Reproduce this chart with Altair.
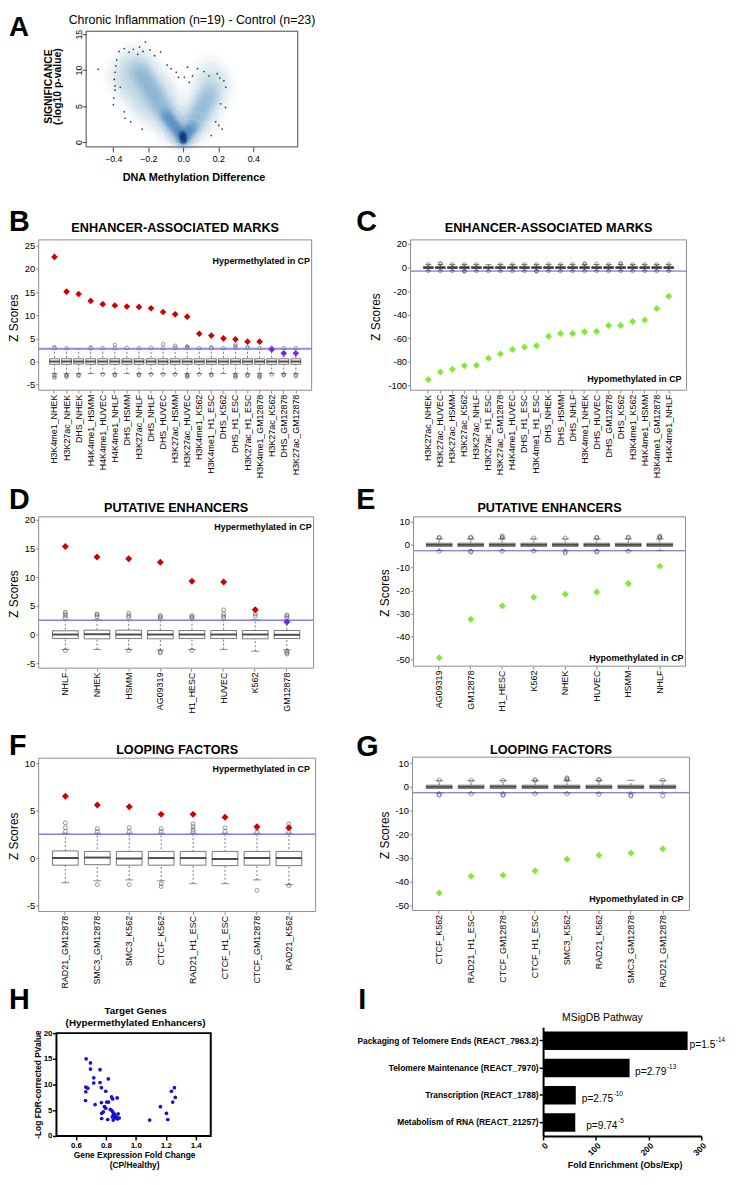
import altair as alt
import pandas as pd

FONT = "Liberation Sans"

# ---------------- Panel A : methylation volcano density ----------------
A_xticks = [-0.4, -0.2, 0.0, 0.2, 0.4]
A_yticks = [0, 5, 10, 15]
A_haze_x = [-0.05, 0.0, 0.05,
            -0.1, -0.05, 0.0, 0.05, 0.1,
            -0.2, -0.15, -0.1, -0.05, 0.05, 0.1, 0.15,
            -0.25, -0.2, -0.15, -0.1, 0.1, 0.15,
            -0.3, -0.25, -0.2, -0.15, -0.1, 0.1, 0.15, 0.2,
            -0.35, -0.3, -0.25, -0.2, -0.15, 0.15, 0.2,
            -0.35, -0.3, -0.25, -0.2, 0.15,
            -0.3, -0.25]
A_haze_y = [1.0, 1.0, 1.0,
            2.5, 2.5, 2.5, 2.5, 2.5,
            4.0, 4.0, 4.0, 4.0, 4.0, 4.0, 4.0,
            5.5, 5.5, 5.5, 5.5, 5.5, 5.5,
            7.0, 7.0, 7.0, 7.0, 7.0, 7.0, 7.0, 7.0,
            8.5, 8.5, 8.5, 8.5, 8.5, 8.5, 8.5,
            10.0, 10.0, 10.0, 10.0, 10.0,
            11.5, 11.5]
A_mid_x = [-0.01, -0.03, -0.05, -0.07, -0.09, -0.11, -0.13, -0.15, -0.17, -0.19, -0.21, -0.23, -0.25,
           0.01, 0.03, 0.05, 0.07, 0.09, 0.11, 0.13, 0.15]
A_mid_y = [0.5, 1.2, 2.0, 2.8, 3.6, 4.4, 5.2, 6.0, 6.8, 7.6, 8.4, 9.2, 10.0,
           0.5, 1.3, 2.2, 3.1, 4.0, 4.9, 5.8, 6.7]
A_dark_x = [0.0, -0.01, -0.02, -0.04, -0.06, -0.08, -0.10, 0.01, 0.03, 0.05]
A_dark_y = [0.3, 0.8, 1.3, 1.9, 2.5, 3.1, 3.8, 0.8, 1.4, 2.0]
A_core_x = [0.0, 0.0, -0.005]
A_core_y = [0.2, 0.6, 1.0]
A_dot_x = [-0.486, -0.38, -0.385, -0.39, -0.394, -0.39, -0.397, -0.40, -0.337, -0.333, -0.30, -0.235,
           -0.367, -0.337, -0.31, -0.285, -0.26, -0.25, -0.23, -0.216, -0.19, -0.164, -0.13, -0.092,
           -0.07, -0.04, -0.028, 0.024, 0.053, 0.081, 0.119, 0.147, 0.194, 0.209, 0.232, 0.243,
           0.213, 0.241, 0.185, 0.203, 0.222, 0.16, 0.006, 0.034, -0.39, -0.36]
A_dot_y = [10.1, 11.4, 10.6, 9.7, 8.7, 7.8, 6.1, 5.2, 4.2, 3.3, 2.8, 1.8,
           12.6, 13.0, 12.5, 12.9, 12.2, 13.2, 12.6, 13.9, 12.8, 12.0, 12.5, 10.7,
           10.2, 9.7, 9.0, 10.4, 9.2, 10.2, 9.8, 9.2, 9.5, 8.9, 8.5, 7.6,
           5.3, 4.8, 2.8, 2.3, 1.8, 0.9, 9.0, 8.3, 7.2, 7.6]

# ---------------- Panel B ----------------
B_cats = ["H3K4me1_NHEK", "H3K27ac_NHEK", "DHS_NHEK", "H4K4me1_HSMM", "H4K4me1_HUVEC", "H4K4me1_NHLF",
          "DHS_HSMM", "H3K27ac_NHLF", "DHS_NHLF", "DHS_HUVEC", "H3K27ac_HSMM", "H3K27ac_HUVEC",
          "H3K4me1_K562", "H3K4me1_H1_ESC", "DHS_K562", "DHS_H1_ESC", "H3K27ac_H1_ESC",
          "H3K4me1_GM12878", "H3K27ac_K562", "DHS_GM12878", "H3K27ac_GM12878"]
B_z = [22.6, 15.1, 14.6, 13.1, 12.4, 12.1, 11.9, 11.8, 11.5, 10.7, 10.2, 9.7, 6.0, 5.6, 5.0, 4.8, 4.3, 4.3, 2.6, 1.8, 1.8]
B_cls = ["hyper", "hyper", "hyper", "hyper", "hyper", "hyper", "hyper", "hyper", "hyper", "hyper", "hyper",
         "hyper", "hyper", "hyper", "hyper", "hyper", "hyper", "hyper", "weak", "weak", "weak"]
B_q1 = [-0.6, -0.6, -0.55, -0.6, -0.6, -0.6, -0.6, -0.6, -0.6, -0.6, -0.6, -0.6, -0.6, -0.6, -0.6, -0.6, -0.6, -0.6, -0.6, -0.6, -0.6]
B_med = [0.0, 0.0, 0.0, 0.0, 0.0, 0.0, 0.0, 0.0, 0.0, 0.0, 0.0, 0.0, 0.0, 0.0, 0.0, 0.0, 0.0, 0.0, 0.0, 0.0, 0.0]
B_q3 = [0.6, 0.6, 0.6, 0.6, 0.6, 0.6, 0.6, 0.6, 0.6, 0.6, 0.6, 0.6, 0.6, 0.6, 0.6, 0.6, 0.6, 0.6, 0.6, 0.6, 0.6]
B_wlo = [-2.6, -2.6, -2.6, -2.6, -2.6, -2.6, -2.6, -2.6, -2.6, -2.6, -2.6, -2.6, -2.6, -2.6, -2.6, -2.6, -2.6, -2.6, -2.6, -2.6, -2.6]
B_whi = [2.6, 2.6, 2.6, 2.6, 2.6, 2.6, 2.6, 2.6, 2.6, 2.6, 2.6, 2.6, 2.6, 2.6, 2.6, 2.6, 2.6, 2.6, 2.6, 2.6, 2.6]
B_out_i = [0, 0, 1, 3, 3, 4, 5, 5, 6, 7, 8, 9, 9, 10, 10, 11, 11, 11, 12, 13, 13, 14, 15, 15, 15, 16, 16, 17, 18, 19, 20,
           0, 0, 0, 1, 1, 1, 2, 2, 4, 5, 5, 7, 7, 8, 9, 10, 11, 11, 11, 12, 13, 13, 15, 15, 15, 16, 16, 17, 17, 17, 18, 19, 19, 20, 20]
B_out_v = [2.9, 3.1, 2.9, 2.8, 3.1, 2.9, 2.9, 3.6, 3.0, 2.9, 3.0, 2.9, 3.8, 3.0, 3.4, 2.9, 3.1, 3.3, 2.9, 2.9, 3.1, 2.9, 2.9, 3.3, 3.7, 2.9, 3.1, 2.9, 3.0, 2.9, 2.9,
           -2.9, -3.2, -3.5, -2.9, -3.1, -3.3, -2.9, -3.1, -2.8, -2.8, -3.0, -2.8, -3.0, -2.8, -2.8, -2.8, -2.9, -3.1, -3.3, -2.8, -2.8, -3.0, -2.9, -3.1, -3.4, -2.9, -3.1, -2.9, -3.2, -3.4, -2.8, -2.8, -3.0, -2.9, -3.2]
B_yticks = [-5, 0, 5, 10, 15, 20, 25]

# ---------------- Panel C ----------------
C_cats = ["H3K27ac_NHEK", "H3K27ac_HUVEC", "H3K27ac_HSMM", "H3K27ac_K562", "H3K27ac_NHLF", "H3K27ac_H1_ESC",
          "H3K27ac_GM12878", "H4K4me1_HUVEC", "DHS_H1_ESC", "H3K4me1_H1_ESC", "DHS_NHEK", "DHS_HSMM",
          "DHS_NHLF", "H3K4me1_NHEK", "DHS_HUVEC", "DHS_GM12878", "DHS_K562", "H3K4me1_K562",
          "H4K4me1_HSMM", "H3K4me1_GM12878", "H4K4me1_NHLF"]
C_z = [-95.0, -88.8, -86.3, -83.5, -82.9, -77.0, -73.4, -69.5, -67.5, -66.4, -58.3, -56.0, -56.0, -54.6, -54.3, -49.3, -49.3, -45.9, -44.5, -34.7, -24.4]
C_cls = ["hypo", "hypo", "hypo", "hypo", "hypo", "hypo", "hypo", "hypo", "hypo", "hypo", "hypo",
         "hypo", "hypo", "hypo", "hypo", "hypo", "hypo", "hypo", "hypo", "hypo", "hypo"]
C_q1 = [-0.7, -0.7, -0.7, -0.7, -0.7, -0.7, -0.7, -0.7, -0.7, -0.7, -0.7, -0.7, -0.7, -0.7, -0.7, -0.7, -0.7, -0.7, -0.7, -0.7, -0.7]
C_med = [0.0, 0.0, 0.0, 0.0, 0.0, 0.0, 0.0, 0.0, 0.0, 0.0, 0.0, 0.0, 0.0, 0.0, 0.0, 0.0, 0.0, 0.0, 0.0, 0.0, 0.0]
C_q3 = [0.7, 0.7, 0.7, 0.7, 0.7, 0.7, 0.7, 0.7, 0.7, 0.7, 0.7, 0.7, 0.7, 0.7, 0.7, 0.7, 0.7, 0.7, 0.7, 0.7, 0.7]
C_wlo = [-2.6, -2.6, -2.6, -2.6, -2.6, -2.6, -2.6, -2.6, -2.6, -2.6, -2.6, -2.6, -2.6, -2.6, -2.6, -2.6, -2.6, -2.6, -2.6, -2.6, -2.6]
C_whi = [2.6, 2.6, 2.6, 2.6, 2.6, 2.6, 2.6, 2.6, 2.6, 2.6, 2.6, 2.6, 2.6, 2.6, 2.6, 2.6, 2.6, 2.6, 2.6, 2.6, 2.6]
C_out_i = [0, 1, 2, 3, 4, 6, 7, 8, 9, 10, 11, 12, 13, 14, 15, 16, 17, 18, 19, 20, 1, 13, 16,
           0, 1, 2, 3, 4, 5, 6, 7, 8, 9, 10, 11, 12, 13, 14, 15, 16, 17, 18, 19, 20, 3, 9]
C_out_v = [2.8, 3.2, 2.8, 2.8, 2.8, 2.8, 2.8, 2.8, 2.8, 2.8, 2.8, 2.8, 2.8, 3.2, 2.8, 2.8, 2.8, 2.8, 2.8, 2.8, 3.5, 3.6, 3.8,
           -2.9, -2.9, -2.9, -2.9, -2.9, -2.9, -2.9, -2.9, -2.9, -2.9, -2.9, -2.9, -2.9, -2.9, -2.9, -2.9, -2.9, -2.9, -2.9, -2.9, -2.9, -3.4, -3.4]
C_yticks = [-100, -80, -60, -40, -20, 0, 20]

# ---------------- Panel D ----------------
D_cats = ["NHLF", "NHEK", "HSMM", "AG09319", "H1_HESC", "HUVEC", "K562", "GM12878"]
D_z = [15.35, 13.5, 13.2, 12.6, 9.3, 9.15, 4.3, 2.2]
D_cls = ["hyper", "hyper", "hyper", "hyper", "hyper", "hyper", "hyper", "weak"]
D_q1 = [-0.7, -0.75, -0.7, -0.75, -0.7, -0.7, -0.75, -0.7]
D_med = [0.0, 0.05, 0.0, 0.0, 0.0, 0.0, 0.0, -0.05]
D_q3 = [0.65, 0.75, 0.75, 0.7, 0.7, 0.7, 0.7, 0.7]
D_wlo = [-2.6, -2.6, -2.6, -2.7, -2.6, -2.6, -2.9, -2.7]
D_whi = [2.5, 2.6, 2.5, 2.5, 2.5, 2.5, 2.6, 2.5]
D_out_i = [0, 0, 0, 0, 1, 1, 1, 2, 2, 2, 3, 3, 3, 4, 4, 4, 5, 5, 5, 5, 6, 6, 7, 7, 7,
           0, 2, 3, 3, 4, 7, 7, 7]
D_out_v = [2.9, 3.3, 3.6, 3.9, 3.1, 3.4, 3.6, 3.0, 3.3, 3.7, 2.9, 3.1, 3.3, 2.9, 3.1, 3.3, 2.9, 3.2, 3.6, 4.3, 3.2, 3.6, 2.9, 3.2, 3.4,
           -2.8, -2.8, -3.0, -3.2, -2.8, -2.9, -3.2, -3.4]
D_yticks = [-5, 0, 5, 10, 15, 20]

# ---------------- Panel E ----------------
E_cats = ["AG09319", "GM12878", "H1_HESC", "K562", "NHEK", "HUVEC", "HSMM", "NHLF"]
E_z = [-49.3, -32.5, -26.6, -22.9, -21.6, -20.6, -16.9, -9.3]
E_cls = ["hypo", "hypo", "hypo", "hypo", "hypo", "hypo", "hypo", "hypo"]
E_q1 = [-0.7, -0.7, -0.7, -0.7, -0.7, -0.7, -0.7, -0.7]
E_med = [0.0, 0.0, 0.0, 0.0, 0.0, 0.0, 0.0, 0.0]
E_q3 = [0.7, 0.7, 0.7, 0.7, 0.7, 0.7, 0.7, 0.7]
E_wlo = [-2.5, -2.5, -2.5, -2.5, -2.5, -2.5, -2.5, -2.5]
E_whi = [2.6, 2.6, 2.6, 2.6, 2.6, 2.6, 2.6, 2.6]
E_out_i = [0, 1, 2, 3, 4, 5, 6, 7, 0, 1, 2, 2, 5, 6, 7, 7,
           0, 1, 1, 2, 3, 4, 4, 5, 5, 6]
E_out_v = [3.0, 3.0, 3.0, 3.0, 3.0, 3.0, 3.0, 3.0, 3.3, 3.4, 3.4, 3.9, 3.3, 3.4, 3.4, 3.8,
           -2.8, -2.8, -3.2, -2.8, -2.7, -2.9, -3.6, -2.8, -3.2, -2.8]
E_yticks = [-50, -40, -30, -20, -10, 0, 10]

# ---------------- Panel F ----------------
F_cats = ["RAD21_GM12878", "SMC3_GM12878", "SMC3_K562", "CTCF_K562", "RAD21_H1_ESC", "CTCF_H1_ESC", "CTCF_GM12878", "RAD21_K562"]
F_z = [6.5, 5.6, 5.4, 4.6, 4.6, 4.3, 3.3, 3.2]
F_cls = ["hyper", "hyper", "hyper", "hyper", "hyper", "hyper", "hyper", "hyper"]
F_q1 = [-0.75, -0.7, -0.75, -0.75, -0.75, -0.8, -0.75, -0.8]
F_med = [0.0, 0.05, -0.05, 0.0, 0.0, -0.1, 0.0, 0.0]
F_q3 = [0.75, 0.7, 0.7, 0.7, 0.7, 0.7, 0.7, 0.7]
F_wlo = [-2.6, -2.4, -2.3, -2.4, -2.7, -2.7, -2.3, -2.8]
F_whi = [2.6, 2.6, 2.6, 2.6, 2.6, 2.6, 2.6, 2.6]
F_out_i = [0, 0, 0, 1, 1, 2, 2, 3, 3, 4, 4, 4, 4, 5, 5, 6, 6, 7, 7, 7,
           1, 2, 3, 3, 6, 7]
F_out_v = [2.8, 3.2, 3.7, 2.8, 3.1, 2.8, 3.2, 2.8, 3.1, 2.8, 3.0, 3.3, 3.6, 2.8, 3.2, 2.7, 3.1, 2.8, 3.2, 3.6,
           -2.8, -2.8, -2.7, -3.0, -3.4, -2.9]
F_yticks = [-5, 0, 5, 10]

# ---------------- Panel G ----------------
G_cats = ["CTCF_K562", "RAD21_H1_ESC", "CTCF_GM12878", "CTCF_H1_ESC", "SMC3_K562", "RAD21_K562", "SMC3_GM12878", "RAD21_GM12878"]
G_z = [-44.8, -37.7, -37.3, -35.4, -30.6, -28.9, -27.9, -26.1]
G_cls = ["hypo", "hypo", "hypo", "hypo", "hypo", "hypo", "hypo", "hypo"]
G_q1 = [-0.7, -0.7, -0.7, -0.7, -0.7, -0.7, -0.7, -0.7]
G_med = [0.0, 0.0, 0.0, 0.0, 0.0, 0.0, 0.0, 0.0]
G_q3 = [0.7, 0.7, 0.7, 0.7, 0.7, 0.7, 0.7, 0.7]
G_wlo = [-2.6, -2.6, -2.6, -2.6, -2.6, -2.6, -2.6, -2.6]
G_whi = [2.6, 2.6, 2.6, 2.6, 2.6, 2.6, 2.8, 2.6]
G_out_i = [0, 1, 2, 3, 3, 4, 4, 4, 5, 5, 7,
           0, 0, 1, 2, 2, 3, 4, 5, 6, 6, 7]
G_out_v = [2.8, 2.8, 2.7, 2.7, 3.0, 2.9, 3.4, 3.8, 2.8, 3.1, 2.8,
           -3.2, -3.5, -3.0, -3.2, -3.6, -3.0, -3.0, -3.2, -3.5, -3.9, -3.8]
G_yticks = [-50, -40, -30, -20, -10, 0, 10]

# ---------------- Panel H ----------------
H_x = [0.668, 0.697, 0.697, 0.761, 0.719, 0.719, 0.761, 0.816, 0.666, 0.679, 0.666, 0.770, 0.799, 0.664,
       0.728, 0.770, 0.805, 0.818, 0.838, 0.845, 0.875, 0.790, 0.799, 0.783, 0.772, 0.829, 0.838, 0.845,
       0.853, 0.860, 0.843, 0.860, 0.871, 0.882, 0.889, 0.772, 0.812, 0.849, 0.877, 0.849,
       1.257, 1.237, 1.263, 1.246, 1.164, 1.204, 1.213, 1.092]
H_y = [15.0, 14.2, 13.0, 12.9, 11.3, 10.3, 10.4, 11.1, 9.5, 9.3, 8.6, 9.4, 8.7, 6.9,
       6.1, 6.5, 6.6, 6.6, 7.6, 7.2, 7.4, 5.7, 5.4, 4.7, 4.4, 5.2, 5.0, 4.7,
       4.4, 4.1, 3.7, 3.5, 3.7, 4.3, 3.5, 3.4, 3.2, 3.1, 3.3, 4.0,
       9.4, 8.7, 7.5, 6.6, 5.7, 4.4, 3.2, 3.1]
H_xticks = [0.6, 0.8, 1.0, 1.2, 1.4]
H_yticks = [0, 5, 10, 15, 20]

# ---------------- Panel I ----------------
I_paths = ["Packaging of Telomere Ends (REACT_7963.2)", "Telomere Maintenance (REACT_7970)",
           "Transcription (REACT_1788)", "Metabolism of RNA (REACT_21257)"]
I_fe = [274, 164, 62, 61]
I_p_base = ["p=1.5", "p=2.79", "p=2.75", "p=9.74"]
I_p_exp = ["-14", "-13", "-10", "-5"]
I_xticks = [0, 100, 200, 300]

# ---------------- layout (page pixels) ----------------
OX, OY = 8, 8          # page origin of the single view
VW, VH = 731, 1168     # view size
P_FS, P_SUP_FS = 10.3, 6.5
I_pdx = [2, 5.5, 6, 11]   # label gap after each bar (px)
# Arial / Liberation Sans advance widths (em) for the p-value labels
ADV = {"p": 0.556, "=": 0.584, ".": 0.278, "-": 0.333}


def vx(x):
    return x - OX


def vy(y):
    return y - OY


def text_w(s, fs):
    return sum(ADV.get(c, 0.556) for c in s) * fs


def txt(s, x, y, size, weight="normal", align="left", angle=0, color="black"):
    return alt.Chart(pd.DataFrame({"s": [s]})).mark_text(
        align=align, baseline="alphabetic", fontSize=size, fontWeight=weight,
        angle=angle, color=color, font=FONT,
    ).encode(text="s:N", x=alt.value(vx(x)), y=alt.value(vy(y)))


def frame(x0, x1, y0, y1, color, width):
    return alt.Chart(pd.DataFrame({"v": [0]})).mark_rect(
        fillOpacity=0, stroke=color, strokeWidth=width
    ).encode(x=alt.value(vx(x0)), x2=alt.value(vx(x1)), y=alt.value(vy(y0)), y2=alt.value(vy(y1)))


def box_panel(cats, z, cls, q1, med, q3, wlo, whi, out_i, out_v, dom, ticks, rect, po,
              box_w, cap_w, osize, dsize, thr, thr_color, thr_w):
    x0, x1, y0, y1 = rect
    xenc = alt.X("cat:N",
                 scale=alt.Scale(domain=cats, range=[vx(x0), vx(x1)], paddingInner=0, paddingOuter=po),
                 axis=alt.Axis(title=None, orient="bottom", offset=vy(y1) - VH, labelAngle=-90,
                               labelFontSize=9, labelPadding=1, tickSize=3, tickColor="#8c8c8c",
                               domain=False, labelColor="black", labelLimit=200))
    ysc = alt.Scale(domain=dom, range=[vy(y1), vy(y0)], nice=False, zero=False)
    yax = alt.Axis(title=None, orient="left", offset=-vx(x0), values=ticks,
                   labelExpr="'' + datum.value", tickSize=3, tickColor="#8c8c8c", labelPadding=1,
                   domain=False, grid=False, labelFontSize=9.5, labelColor="black",
                   labelFlush=False, labelOverlap=False)

    def Y(f):
        return alt.Y(f"{f}:Q", scale=ysc, axis=yax)

    box_df = pd.DataFrame({"cat": cats, "q1": q1, "med": med, "q3": q3, "wlo": wlo, "whi": whi})
    out_df = pd.DataFrame({"cat": [cats[i] for i in out_i], "v": out_v})
    z_df = pd.DataFrame({"cat": cats, "z": z, "cls": cls})
    grey = "#555555"
    layers = [
        alt.Chart(box_df).mark_rule(color=grey, strokeWidth=0.8, strokeDash=[2, 2]).encode(
            x=xenc, y=Y("wlo"), y2="whi"),
        alt.Chart(box_df).mark_tick(color=grey, size=cap_w, thickness=1).encode(x=xenc, y=Y("whi")),
        alt.Chart(box_df).mark_tick(color=grey, size=cap_w, thickness=1).encode(x=xenc, y=Y("wlo")),
        alt.Chart(box_df).mark_bar(size=box_w, fill="white", stroke=grey, strokeWidth=0.8).encode(
            x=xenc, y=Y("q1"), y2="q3"),
        alt.Chart(box_df).mark_tick(color="black", size=box_w, thickness=2).encode(x=xenc, y=Y("med")),
        alt.Chart(out_df).mark_point(shape="circle", filled=False, size=osize, color="#333333",
                                     strokeWidth=0.7).encode(x=xenc, y=Y("v")),
        alt.Chart(pd.DataFrame({"t": [thr]})).mark_rule(color=thr_color, strokeWidth=thr_w).encode(
            y=Y("t"), x=alt.value(vx(x0)), x2=alt.value(vx(x1))),
        alt.Chart(z_df).mark_point(shape="diamond", filled=True, size=dsize, opacity=1).encode(
            x=xenc, y=Y("z"),
            color=alt.Color("cls:N", scale=alt.Scale(domain=["hyper", "weak", "hypo"],
                                                     range=["#d00000", "#7a22ee", "#80ea3c"]),
                            legend=None)),
        frame(x0, x1, y0, y1, "#8c8c8c", 1),
    ]
    return alt.layer(*layers)


def panel_A():
    x0, x1, y0, y1 = 87, 301, 25, 142
    xs = alt.Scale(domain=[-0.555, 0.654], range=[vx(x0), vx(x1)], nice=False, zero=False)
    ys = alt.Scale(domain=[-0.69, 15.41], range=[vy(y1), vy(y0)], nice=False, zero=False)
    xax = alt.Axis(title=None, orient="bottom", offset=vy(y1) - VH, values=A_xticks, format=".1f",
                   tickSize=5, tickColor="#444444", labelPadding=3, domain=False, grid=False,
                   labelFontSize=9, labelFlush=False, labelOverlap=False, labelColor="black")
    yax = alt.Axis(title=None, orient="left", offset=-vx(x0), values=A_yticks, labelAngle=-90,
                   labelAlign="center", labelBaseline="alphabetic", tickSize=4, tickColor="#444444",
                   labelPadding=1, domain=False, grid=False, labelFontSize=9, labelFlush=False,
                   labelOverlap=False, labelColor="black")
    X = alt.X("x:Q", scale=xs, axis=xax)
    Yv = alt.Y("y:Q", scale=ys, axis=yax)

    def cloud(xv, yv, size, color, op):
        return alt.Chart(pd.DataFrame({"x": xv, "y": yv})).mark_circle(
            size=size, color=color, opacity=op).encode(x=X, y=Yv)

    # each density level drawn at several radii so its edges fade softly
    return alt.layer(
        cloud(A_haze_x, A_haze_y, 1500, "#9ecae1", 0.05),
        cloud(A_haze_x, A_haze_y, 850, "#9ecae1", 0.05),
        cloud(A_haze_x, A_haze_y, 400, "#9ecae1", 0.05),
        cloud(A_mid_x, A_mid_y, 650, "#4f93c9", 0.05),
        cloud(A_mid_x, A_mid_y, 330, "#4f93c9", 0.06),
        cloud(A_mid_x, A_mid_y, 140, "#4f93c9", 0.06),
        cloud(A_dark_x, A_dark_y, 220, "#2166ac", 0.12),
        cloud(A_dark_x, A_dark_y, 90, "#2166ac", 0.14),
        cloud(A_core_x, A_core_y, 70, "#08306b", 0.3),
        cloud(A_core_x, A_core_y, 28, "#08306b", 0.45),
        alt.Chart(pd.DataFrame({"x": A_dot_x, "y": A_dot_y})).mark_circle(
            size=3, color="#222222", opacity=0.9).encode(x=X, y=Yv),
        frame(x0, x1, y0, y1, "#444444", 1),
    )


def panel_H():
    x0, x1, y0, y1 = 57, 213, 1038, 1142
    xs = alt.Scale(domain=[0.47, 1.5], range=[vx(x0), vx(x1)], nice=False, zero=False)
    ys = alt.Scale(domain=[0, 20], range=[vy(y1), vy(y0)], nice=False, zero=False)
    common = dict(title=None, domain=False, grid=False, tickColor="black", tickWidth=1.5,
                  tickSize=4, labelFontSize=8, labelFontWeight="bold", labelColor="black",
                  labelFlush=False, labelOverlap=False)
    X = alt.X("x:Q", scale=xs, axis=alt.Axis(orient="bottom", offset=vy(y1) - VH, labelPadding=2,
                                             values=H_xticks, format=".1f", **common))
    Yv = alt.Y("y:Q", scale=ys, axis=alt.Axis(orient="left", offset=-vx(x0), labelPadding=0.5,
                                              values=H_yticks, **common))
    return alt.layer(
        alt.Chart(pd.DataFrame({"x": H_x, "y": H_y})).mark_circle(
            size=14, color="#1414d2", opacity=1).encode(x=X, y=Yv),
        frame(x0, x1, y0, y1, "black", 2),
    )


def panel_I():
    x0, x1, y0, y1 = 549, 709, 1032, 1142
    axc = dict(title=None, tickSize=4, tickWidth=1.5, tickColor="black", domainColor="black",
               domainWidth=2, labelFontSize=8.5, labelFontWeight="bold", labelColor="black",
               labelPadding=1, grid=False)
    Yv = alt.Y("path:N",
               scale=alt.Scale(domain=I_paths, range=[vy(y0), vy(y1)], paddingInner=0.32, paddingOuter=0.16),
               axis=alt.Axis(orient="left", offset=-vx(x0), labelLimit=400, **axc))
    X = alt.X("fe:Q", scale=alt.Scale(domain=[0, 300], range=[vx(x0), vx(x1)], nice=False),
              axis=alt.Axis(orient="bottom", offset=vy(y1) - VH, values=I_xticks, labelAngle=-45,
                            labelFlush=False, labelOverlap=False, **axc))
    df = pd.DataFrame({"path": I_paths, "fe": I_fe, "base": I_p_base, "exp": I_p_exp})
    layers = [alt.Chart(df).mark_bar(color="black").encode(x=X, y=Yv)]
    for i in range(len(I_paths)):
        row = df.iloc[[i]]
        layers.append(alt.Chart(row).mark_text(
            align="left", baseline="alphabetic", dx=I_pdx[i], dy=7, fontSize=P_FS, color="black"
        ).encode(x=X, y=Yv, text="base:N"))
        layers.append(alt.Chart(row).mark_text(
            align="left", baseline="alphabetic", dx=I_pdx[i] + text_w(I_p_base[i], P_FS) + 0.5, dy=1,
            fontSize=P_SUP_FS, color="black"
        ).encode(x=X, y=Yv, text="exp:N"))
    return alt.layer(*layers)


panels = [
    panel_A(),
    box_panel(B_cats, B_z, B_cls, B_q1, B_med, B_q3, B_wlo, B_whi, B_out_i, B_out_v,
              [-6.2, 26.28], B_yticks, (39, 315, 236, 388), 0.811, 10, 6, 12, 45, 2.78, "#8a8aee", 2),
    box_panel(C_cats, C_z, C_cls, C_q1, C_med, C_q3, C_wlo, C_whi, C_out_i, C_out_v,
              [-104.2, 23.5], C_yticks, (415, 694, 236, 388), 0.98, 10, 6, 12, 50, -3.0, "#5a5ad8", 1),
    box_panel(D_cats, D_z, D_cls, D_q1, D_med, D_q3, D_wlo, D_whi, D_out_i, D_out_v,
              [-5.86, 20.5], D_yticks, (39, 317, 516, 669), 0.344, 26, 8, 16, 50, 2.47, "#8080ee", 1.5),
    box_panel(E_cats, E_z, E_cls, E_q1, E_med, E_q3, E_wlo, E_whi, E_out_i, E_out_v,
              [-53.0, 12.23], E_yticks, (418, 693, 516, 667), 0.316, 26, 8, 16, 50, -2.6, "#5a5ad8", 1),
    box_panel(F_cats, F_z, F_cls, F_q1, F_med, F_q3, F_wlo, F_whi, F_out_i, F_out_v,
              [-5.625, 10.52], F_yticks, (39, 319, 760, 915), 0.336, 26, 8, 16, 50, 2.5, "#8080ee", 1.5),
    box_panel(G_cats, G_z, G_cls, G_q1, G_med, G_q3, G_wlo, G_whi, G_out_i, G_out_v,
              [-52.2, 12.53], G_yticks, (417, 697, 759, 914), 0.336, 26, 8, 16, 50, -2.5, "#5a5ad8", 1),
    panel_H(),
    panel_I(),
]

LX = 9  # left edge for the left-column panel letters
texts = [
    # panel A
    txt("A", LX, 30, 28, "bold"),
    txt("Chronic Inflammation (n=19) - Control (n=23)", 194, 18, 12.5, "normal", "center"),
    txt("DNA Methylation Difference", 196, 176, 11, "bold", "center"),
    txt("SIGNIFICANCE", 52.5, 81, 10.5, "bold", "center", 270),
    txt("(-log10 p-value)", 62, 81, 10.5, "bold", "center", 270),
    # B
    txt("B", LX, 227, 29, "bold"),
    txt("ENHANCER-ASSOCIATED MARKS", 177, 228, 12.8, "bold", "center"),
    txt("Hypermethylated in CP", 313.3, 260.3, 9, "bold", "right"),
    txt("Z Scores", 18.5, 315, 12, "normal", "center", 270),
    # C
    txt("C", 360, 227, 29, "bold"),
    txt("ENHANCER-ASSOCIATED MARKS", 554.5, 228, 12.8, "bold", "center"),
    txt("Hypomethylated in CP", 689, 380, 9, "bold", "right"),
    txt("Z Scores", 384, 314, 12, "normal", "center", 270),
    # D
    txt("D", LX, 508, 29, "bold"),
    txt("PUTATIVE ENHANCERS", 178, 511, 12.8, "bold", "center"),
    txt("Hypermethylated in CP", 315, 529, 9, "bold", "right"),
    txt("Z Scores", 18.5, 594, 12, "normal", "center", 270),
    # E
    txt("E", 360, 508, 29, "bold"),
    txt("PUTATIVE ENHANCERS", 555.5, 511, 12.8, "bold", "center"),
    txt("Hypomethylated in CP", 691, 661.7, 9, "bold", "right"),
    txt("Z Scores", 393, 593, 12, "normal", "center", 270),
    # F
    txt("F", LX, 757, 29, "bold"),
    txt("LOOPING FACTORS", 179, 756, 12.8, "bold", "center"),
    txt("Hypermethylated in CP", 313.3, 774, 9, "bold", "right"),
    txt("Z Scores", 18.5, 839, 12, "normal", "center", 270),
    # G
    txt("G", 360, 758, 29, "bold"),
    txt("LOOPING FACTORS", 557, 756, 12.8, "bold", "center"),
    txt("Hypomethylated in CP", 691, 905.7, 9, "bold", "right"),
    txt("Z Scores", 393, 838, 12, "normal", "center", 270),
    # H
    txt("H", LX, 1014, 29, "bold"),
    txt("Target Genes", 137, 1019, 10, "bold", "center"),
    txt("(Hypermethylated Enhancers)", 137, 1031, 10, "bold", "center"),
    txt("-Log FDR-corrected PValue", 41.5, 1090, 8.5, "bold", "center", 270),
    txt("Gene Expression Fold Change", 136, 1164, 8.5, "bold", "center"),
    txt("(CP/Healthy)", 136, 1174, 8.5, "bold", "center"),
    # I
    txt("I", 362, 1014, 29, "bold"),
    txt("MSigDB Pathway", 609, 1026, 10.5, "normal", "center"),
    txt("Fold Enrichment (Obs/Exp)", 632, 1174, 9, "bold", "center"),
]

chart = alt.layer(*panels, *texts).resolve_scale(
    x="independent", y="independent"
).resolve_axis(
    x="independent", y="independent"
).properties(
    width=VW, height=VH, padding=0, autosize=alt.AutoSizeParams(type="none")
).configure(font=FONT).configure_view(strokeWidth=0)

chart.save("out.html", embed_options={"renderer": "svg", "actions": False})
